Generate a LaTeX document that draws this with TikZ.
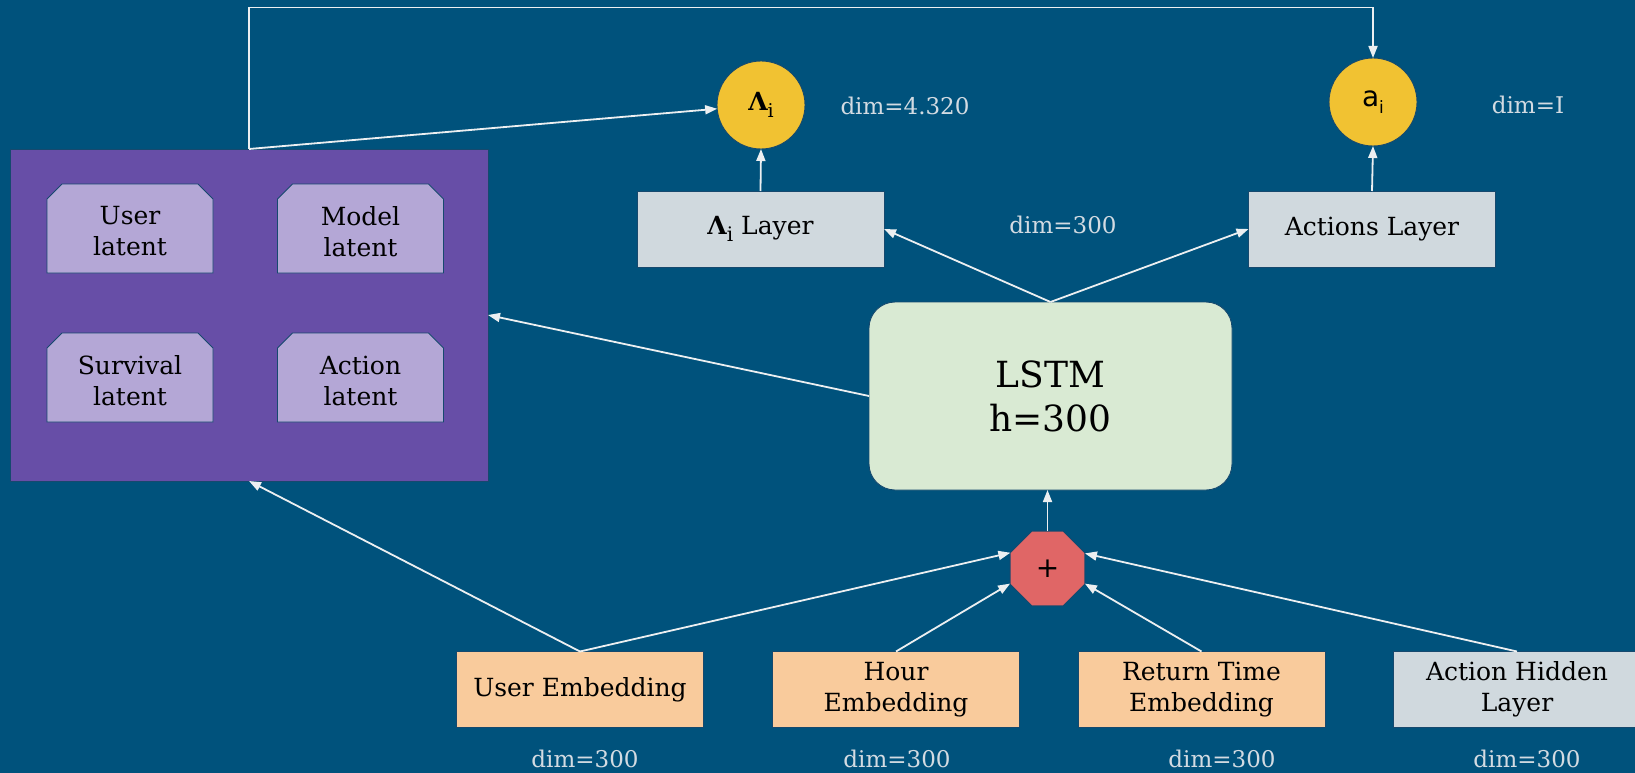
\documentclass[tikz,border=0pt]{standalone}
\usepackage{fontspec}
\setmainfont{DejaVu Serif}
\newfontfamily\sansf{DejaVu Sans}
\usetikzlibrary{shapes.geometric,arrows.meta}

\definecolor{bg}{HTML}{00527C}
\definecolor{purp}{HTML}{674EA7}
\definecolor{lav}{HTML}{B4A7D6}
\definecolor{gold}{HTML}{F1C232}
\definecolor{slate}{HTML}{D0D9DE}
\definecolor{mint}{HTML}{D9EAD3}
\definecolor{coral}{HTML}{E06666}
\definecolor{peach}{HTML}{F9CB9C}
\definecolor{wire}{HTML}{ECEFF1}
\definecolor{dimtxt}{HTML}{D3DBE2}
\definecolor{edge}{HTML}{16496E}

\newcommand\lowsub[2]{\raisebox{-#2}{\fontsize{#1}{#1}\selectfont\mdseries i}}

% snipped-top card: name, centre
\newcommand\latentcard[2]{%
  \path (#2) coordinate (#1);
  \draw[cardshape] ([shift={(-83,44.5)}]#1) -- ([shift={(-83,-29.5)}]#1)
    -- ([shift={(-68,-44.5)}]#1) -- ([shift={(68,-44.5)}]#1)
    -- ([shift={(83,-29.5)}]#1) -- ([shift={(83,44.5)}]#1) -- cycle;}

\tikzset{
  base/.style={draw=edge, line width=0.9pt, inner sep=0pt, outer sep=0pt,
    align=center, text=black, font=\fontsize{25}{31}\selectfont},
  layerbox/.style={base, fill=slate, minimum width=247pt, minimum height=76pt},
  embbox/.style={base, fill=peach, minimum width=247pt, minimum height=76pt},
  cardshape/.style={draw=edge, line width=0.9pt, fill=lav},
  cardtext/.style={align=center, text=black, inner sep=0pt, font=\fontsize{25}{31}\selectfont},
  outcircle/.style={base, fill=gold, circle, minimum size=88pt},
  dimlabel/.style={text=dimtxt, font=\fontsize{23}{28}\selectfont, inner sep=0pt},
  conn/.style={draw=wire, line width=1.8pt, -{Triangle[length=12pt,width=9pt]}},
}

\begin{document}
\begin{tikzpicture}[x=1pt,y=-1pt]
\fill[bg] (0,0) rectangle (1635,773);
\useasboundingbox (0,0) rectangle (1635,773);

% latent block
\node[base, fill=purp, minimum width=478pt, minimum height=332pt] (purp) at (249,315) {};
\latentcard{ulat}{130,228.5}
\latentcard{mlat}{360.5,228.5}
\latentcard{slat}{130,377.5}
\latentcard{alat}{360.5,377.5}
\node[cardtext] (ulatt) at ([yshift=-3pt]ulat) {User\\latent};
\node[cardtext] (mlatt) at ([yshift=-3pt]mlat) {Model\\latent};
\node[cardtext] (slatt) at ([yshift=-3pt]slat) {Survival\\latent};
\node[cardtext] (alatt) at ([yshift=-3pt]alat) {Action\\latent};

% outputs
\node[outcircle] (lam) at (761,105) {\fontsize{25}{25}\selectfont{\bfseries Λ}\lowsub{19}{7pt}};
\node[outcircle] (ai) at (1373,102) {\sansf\fontsize{28}{28}\selectfont a\lowsub{17}{7pt}};
\node[layerbox] (laml) at (760.5,229) {{\bfseries Λ}\lowsub{20}{7pt} Layer};
\node[layerbox] (actl) at (1372,229) {Actions Layer};

% recurrent core
\node[base, fill=mint, rounded corners=26pt, minimum width=363pt, minimum height=188pt,
      font=\fontsize{36}{44}\selectfont] (lstm) at (1050.5,396) {LSTM\\h=300};
\node[base, fill=coral, regular polygon, regular polygon sides=8, minimum size=81pt,
      font=\sansf\fontsize{28}{28}\selectfont] (sum) at (1047.5,568.5) {+};

% inputs
\node[embbox] (uemb) at (580,689.5) {User Embedding};
\node[embbox] (hemb) at (896,689.5) {Hour\\Embedding};
\node[embbox] (remb) at (1201.5,689.5) {Return Time\\Embedding};
\node[layerbox] (ahid) at (1517,689.5) {Action Hidden\\Layer};

% dimension labels
\node[dimlabel] (dlam) at (905,106) {dim=4.320};
\node[dimlabel] (dai) at (1528,105) {dim=I};
\node[dimlabel] (dh) at (1063,225) {dim=300};
\node[dimlabel] (du) at (585,759) {dim=300};
\node[dimlabel] (dhr) at (897,759) {dim=300};
\node[dimlabel] (dr) at (1222,759) {dim=300};
\node[dimlabel] (da) at (1527,759) {dim=300};

% connectors
\draw[conn] (purp.north) -- (purp.north |- 0,7.5) -| (ai.north);
\draw[conn] (purp.north) -- (lam);
\draw[conn] (laml.north) -- (lam.south);
\draw[conn] (actl.north) -- (ai.south);
\draw[conn] (lstm.north) -- (laml.east);
\draw[conn] (lstm.north) -- (actl.west);
\draw[conn] (lstm.west) -- (purp.east);
\draw[conn] (sum.north) -- (sum.north |- lstm.south);
\draw[conn] (uemb.north) -- (purp.south);
\draw[conn] (uemb.north) -- (sum.157.5);
\draw[conn] (hemb.north) -- (sum.202.5);
\draw[conn] (remb.north) -- (sum.-22.5);
\draw[conn] (ahid.north) -- (sum.22.5);
\end{tikzpicture}
\end{document}
